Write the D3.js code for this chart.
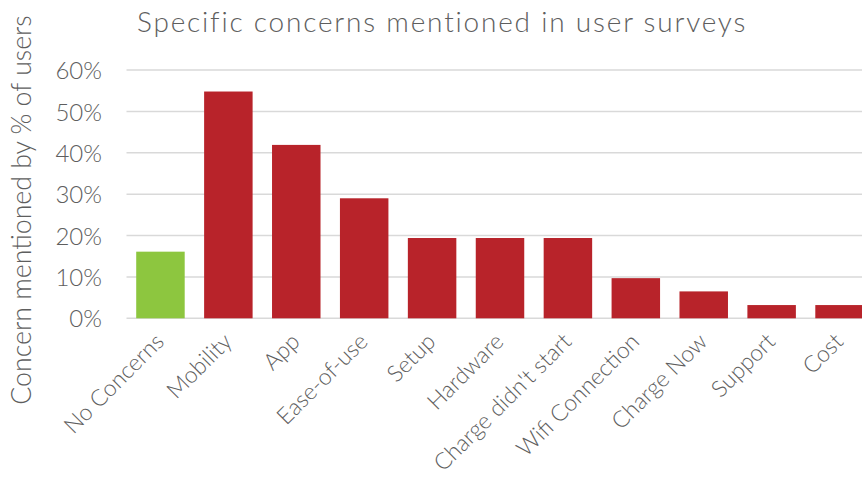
<!DOCTYPE html>
<html>
<head>
<meta charset="utf-8">
<script src="https://cdn.jsdelivr.net/npm/d3@7"></script>
<style>
  html, body { margin: 0; padding: 0; background: #fff; }
  svg { display: block; }
  text { font-family: Lato, "Open Sans", sans-serif; font-weight: 300; fill: #5e5e5e; }
</style>
</head>
<body>
<svg id="chart" width="862" height="484"></svg>
<script>
// Survey results: share of users mentioning each concern (%)
const categories = ["No Concerns", "Mobility", "App", "Ease-of-use", "Setup", "Hardware",
  "Charge didn't start", "Wifi Connection", "Charge Now", "Support", "Cost"];
const values = [16.1, 54.8, 41.9, 29.0, 19.4, 19.4, 19.4, 9.7, 6.5, 3.2, 3.2];
const yTicks = [0, 10, 20, 30, 40, 50, 60];
const titleText = "Specific concerns mentioned in user surveys";
const yAxisTitle = "Concern mentioned by % of users";

const svg = d3.select("#chart");
const W = 862;
const textColor = "#5e5e5e";

const x = d3.scaleBand()
  .domain(categories)
  .range([126.5, 873.5])
  .paddingInner(0.286)
  .paddingOuter(0.143);

const y = d3.scaleLinear().domain([0, 60]).range([318.3, 70]);

// Horizontal gridlines
svg.append("g")
  .selectAll("line")
  .data(yTicks)
  .join("line")
  .attr("x1", 126.5).attr("x2", W)
  .attr("y1", d => y(d)).attr("y2", d => y(d))
  .attr("stroke", "#d9d9d9")
  .attr("stroke-width", 1.5);

// Bars
svg.append("g")
  .selectAll("rect")
  .data(categories)
  .join("rect")
  .attr("x", d => x(d))
  .attr("width", x.bandwidth())
  .attr("y", (d, i) => y(values[i]))
  .attr("height", (d, i) => y(0) - y(values[i]))
  .attr("fill", (d, i) => i === 0 ? "#8dc63f" : "#b8232a");

// Y axis tick labels
const yAxis = d3.axisLeft(y).tickValues(yTicks).tickFormat(d => d + "%").tickSize(0).tickPadding(0);
const yg = svg.append("g").attr("transform", "translate(102,0)").call(yAxis);
yg.select(".domain").remove();
yg.selectAll("text")
  .attr("font-family", "Lato, sans-serif")
  .attr("font-weight", 300)
  .attr("font-size", 24)
  .attr("fill", textColor)
  .attr("dy", "0.36em");

// X axis category labels, rotated
const xAxis = d3.axisBottom(x).tickSize(0).tickPadding(0);
const xg = svg.append("g").call(xAxis);
xg.select(".domain").remove();
xg.selectAll(".tick").attr("transform", d => `translate(${x(d) + x.bandwidth() / 2 + 5},343)`);
xg.selectAll("text")
  .attr("font-family", "Lato, sans-serif")
  .attr("font-weight", 300)
  .attr("font-size", 23)
  .attr("fill", textColor)
  .attr("y", 0).attr("dy", 0)
  .attr("text-anchor", "end")
  .attr("transform", "rotate(-45)");

// Chart title
svg.append("text")
  .attr("x", 137).attr("y", 32)
  .attr("font-size", 28)
  .attr("letter-spacing", 1.8)
  .text(titleText);

// Y axis title
svg.append("text")
  .attr("transform", "translate(31,210) rotate(-90)")
  .attr("text-anchor", "middle")
  .attr("font-size", 26.7)
  .text(yAxisTitle);
</script>
</body>
</html>
